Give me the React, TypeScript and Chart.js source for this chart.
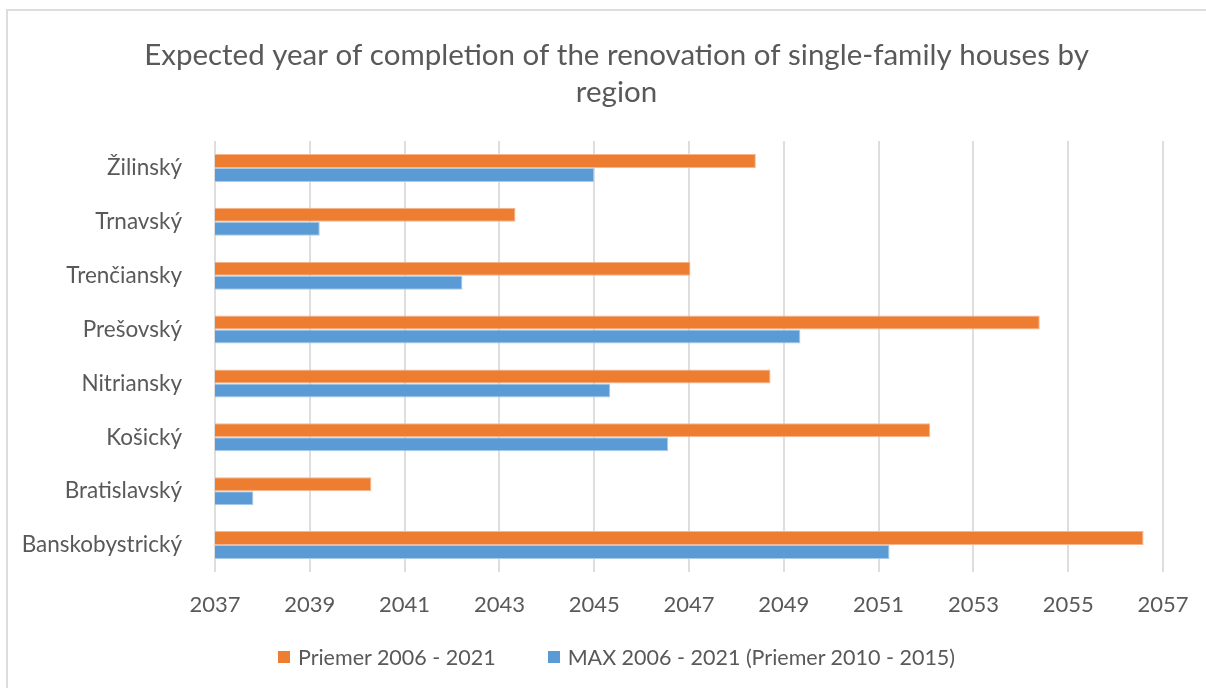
import React, { useEffect, useRef } from "react";
import { Chart, registerables } from "chart.js";

Chart.register(...registerables);

const regions = [
  "Žilinský",
  "Trnavský",
  "Trenčiansky",
  "Prešovský",
  "Nitriansky",
  "Košický",
  "Bratislavský",
  "Banskobystrický",
];
const priemer = [2048.41, 2043.34, 2047.03, 2054.4, 2048.72, 2052.09, 2040.3, 2056.59];
const maxSeries = [2045.0, 2039.21, 2042.22, 2049.35, 2045.34, 2046.56, 2037.81, 2051.23];
const seriesNames = ["Priemer 2006 - 2021", "MAX 2006 - 2021 (Priemer 2010 - 2015)"];
const seriesColors = ["#ED7D31", "#5B9BD5"];
const seriesEdges = ["#F6B58C", "#A9CBEA"];
const titleLines = [
  "Expected year of completion of the renovation of single-family houses by",
  "region",
];
const axisMin = 2037;
const axisMax = 2057;
const axisStep = 2;

const FONT = "Lato";
const TEXT = "#595959";

export default function App() {
  const ref = useRef<HTMLCanvasElement | null>(null);

  useEffect(() => {
    if (!ref.current) return;
    const chart = new Chart(ref.current, {
      type: "bar",
      data: {
        labels: regions,
        datasets: [
          {
            label: seriesNames[0],
            data: priemer,
            backgroundColor: seriesColors[0],
            borderColor: seriesEdges[0],
            borderWidth: 1,
          },
          {
            label: seriesNames[1],
            data: maxSeries,
            backgroundColor: seriesColors[1],
            borderColor: seriesEdges[1],
            borderWidth: 1,
          },
        ],
      },
      options: {
        indexAxis: "y",
        responsive: false,
        animation: false,
        devicePixelRatio: 1,
        layout: { padding: { left: 0, right: 0, top: 0, bottom: 0 } },
        datasets: {
          bar: { categoryPercentage: 0.52, barPercentage: 1 },
        },
        scales: {
          x: {
            type: "linear",
            position: "bottom",
            min: axisMin,
            max: axisMax,
            ticks: {
              stepSize: axisStep,
              color: TEXT,
              font: { family: FONT, size: 22 },
              padding: 20,
              callback: (v: any) => String(v),
            },
            grid: { color: "#DEDEDE", lineWidth: 2, drawTicks: false },
            border: { display: false },
            afterFit: (s: any) => {
              s.height = 116;
            },
          },
          y: {
            type: "category",
            position: "left",
            ticks: {
              color: TEXT,
              font: { family: FONT, size: 22.5 },
              padding: 33,
            },
            grid: { display: false, drawTicks: false },
            border: { display: false },
            afterFit: (s: any) => {
              s.width = 208;
            },
          },
          yRight: {
            type: "category",
            position: "right",
            display: true,
            ticks: { display: false },
            grid: { display: false, drawTicks: false },
            border: { display: false },
            afterFit: (s: any) => {
              s.width = 63;
            },
          },
        },
        plugins: {
          title: {
            display: true,
            text: titleLines,
            color: TEXT,
            font: { family: FONT, size: 29.5, weight: "normal", lineHeight: 37 / 29.5 },
            padding: { top: 26.5, bottom: 30.5 },
          },
          legend: { display: false },
          tooltip: { enabled: false },
        },
      },
    });
    const fontsAny: any = (document as any).fonts;
    if (fontsAny && fontsAny.load) {
      Promise.all([fontsAny.load("22px Lato"), fontsAny.load("29px Lato")]).then(() => {
        try {
          chart.update();
        } catch (e) {}
      });
    }
    return () => chart.destroy();
  }, []);

  return (
    <div
      style={{
        position: "fixed",
        left: 0,
        top: 0,
        width: 1206,
        height: 688,
        overflow: "hidden",
        background: "#FFFFFF",
      }}
    >
      <div
        style={{
          position: "absolute",
          left: 6,
          top: 9,
          width: 1240,
          height: 700,
          border: "2px solid #DDDDDD",
          boxSizing: "border-box",
        }}
      />
      <canvas
        ref={ref}
        width={1219}
        height={678}
        style={{ position: "absolute", left: 7, top: 10, width: 1219, height: 678 }}
      />
      <div
        style={{
          position: "absolute",
          left: 7,
          width: 1219,
          top: 644,
          height: 26,
          display: "flex",
          justifyContent: "center",
          alignItems: "center",
          gap: 52,
          fontFamily: FONT,
          fontSize: 21.5,
          lineHeight: "26px",
          color: TEXT,
          whiteSpace: "nowrap",
        }}
      >
        {seriesNames.map((name, i) => (
          <div key={name} style={{ display: "flex", alignItems: "center" }}>
            <span
              style={{
                display: "inline-block",
                width: 12,
                height: 12,
                background: seriesColors[i],
                marginRight: 8,
              }}
            />
            <span>{name}</span>
          </div>
        ))}
      </div>
    </div>
  );
}
